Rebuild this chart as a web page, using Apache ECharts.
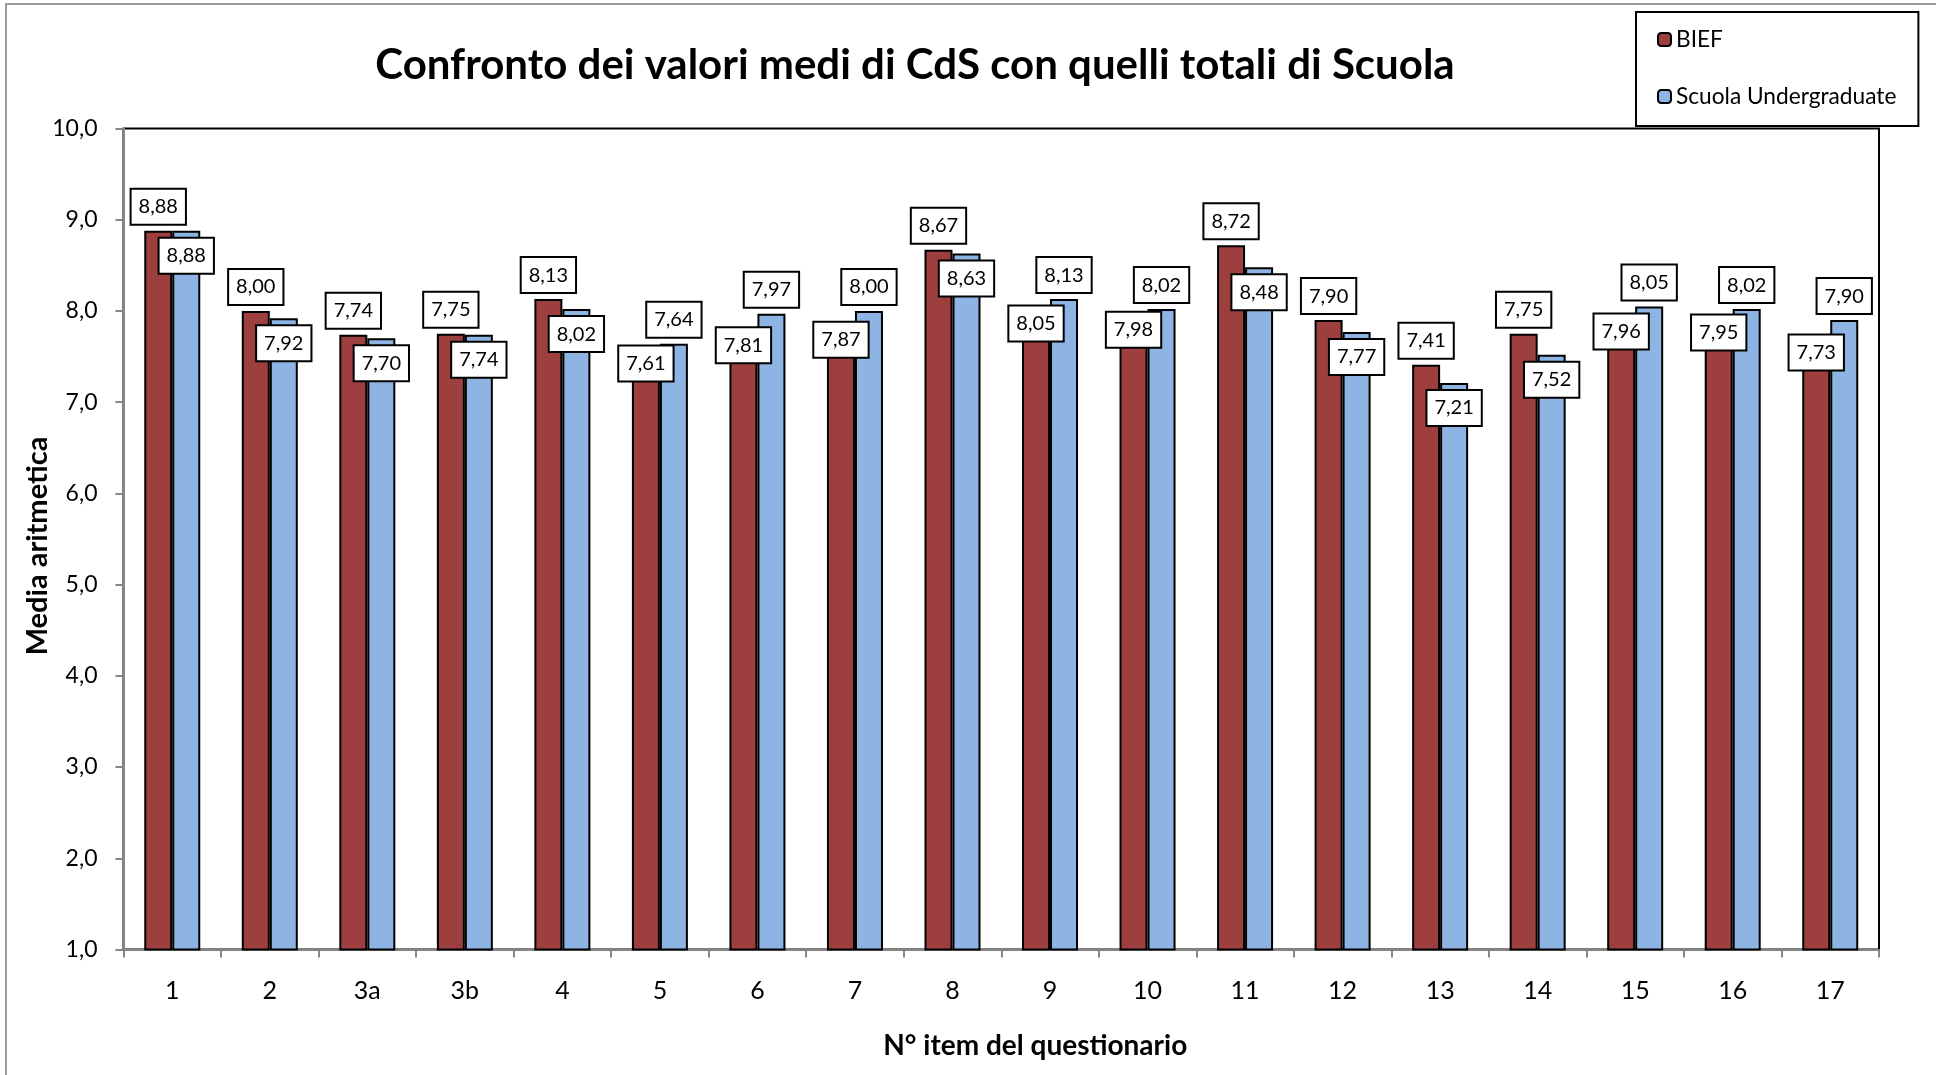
<!DOCTYPE html>
<html>
<head>
<meta charset="utf-8">
<title>Confronto dei valori medi di CdS</title>
<script src="https://cdn.jsdelivr.net/npm/echarts@6/dist/echarts.min.js"></script>
<style>
  html, body { margin: 0; padding: 0; background: #fff; }
  #chart { width: 1936px; height: 1075px; }
</style>
</head>
<body>
<div id="chart"></div>
<script>
// dati
var items = ['1', '2', '3a', '3b', '4', '5', '6', '7', '8', '9', '10', '11', '12', '13', '14', '15', '16', '17'];
var bief = [8.88, 8.00, 7.74, 7.75, 8.13, 7.61, 7.81, 7.87, 8.67, 8.05, 7.98, 8.72, 7.90, 7.41, 7.75, 7.96, 7.95, 7.73];
var scuola = [8.88, 7.92, 7.70, 7.74, 8.02, 7.64, 7.97, 8.00, 8.63, 8.13, 8.02, 8.48, 7.77, 7.21, 7.52, 8.05, 8.02, 7.90];

var RED = '#9d3f3e';
var BLUE = '#8db4e2';

// etichetta sopra per il valore piu alto, dentro per quello piu basso
function withLabels(values, others, first, inside) {
  return values.map(function (v, i) {
    var high = first ? v >= others[i] : v > others[i];
    return {
      value: v,
      label: high ? { position: 'top', distance: 7 } : { position: 'insideTop', distance: inside }
    };
  });
}

function comma(v, d) {
  return v.toFixed(d).replace('.', ',');
}

var labelStyle = {
  show: true,
  fontFamily: 'Lato',
  fontSize: 20,
  lineHeight: 20,
  color: '#000',
  backgroundColor: '#fff',
  borderColor: '#000',
  borderWidth: 2,
  padding: [7, 7],
  formatter: function (p) { return comma(p.value, 2); }
};

var chart = echarts.init(document.getElementById('chart'));
chart.setOption({
  animation: false,
  backgroundColor: '#fff',
  title: {
    text: 'Confronto dei valori medi di CdS con quelli totali di Scuola',
    left: 910,
    top: 60,
    textAlign: 'center',
    textVerticalAlign: 'middle',
    textStyle: { fontFamily: 'Lato', fontWeight: 'bold', fontSize: 42, color: '#000' }
  },
  legend: {
    orient: 'vertical',
    left: 1636,
    top: 12,
    padding: [16, 22, 18, 21],
    borderColor: '#000',
    borderWidth: 2,
    itemWidth: 13,
    itemHeight: 13,
    itemGap: 34,
    textStyle: { fontFamily: 'Lato', fontSize: 22.7, color: '#000' },
    data: ['BIEF', 'Scuola Undergraduate']
  },
  graphic: [{
    type: 'rect',
    shape: { x: 6, y: 4, width: 2000, height: 2000 },
    style: { fill: 'none', stroke: '#9a9a9a', lineWidth: 2 },
    silent: true
  }],
  grid: {
    left: 123.5,
    right: 57,
    top: 128.5,
    bottom: 125.5,
    show: true,
    borderColor: '#000',
    borderWidth: 2
  },
  xAxis: {
    type: 'category',
    data: items,
    name: 'N° item del questionario',
    nameLocation: 'middle',
    nameGap: 82,
    nameMoveOverlap: false,
    nameTextStyle: { fontFamily: 'Lato', fontWeight: 'bold', fontSize: 28, color: '#000', padding: [0, 0, 0, 68] },
    axisLine: { lineStyle: { color: '#868686', width: 2 } },
    axisTick: { show: true, length: 8, lineStyle: { color: '#868686', width: 2 } },
    axisLabel: { fontFamily: 'Lato', fontSize: 25, color: '#000', margin: 29 }
  },
  yAxis: {
    type: 'value',
    min: 1,
    max: 10,
    interval: 1,
    name: 'Media aritmetica',
    nameLocation: 'middle',
    nameGap: 71,
    nameMoveOverlap: false,
    nameTextStyle: { fontFamily: 'Lato', fontWeight: 'bold', fontSize: 29, color: '#000', padding: [0, 14, 0, 0] },
    axisLine: { show: true, lineStyle: { color: '#868686', width: 2 } },
    axisTick: { show: true, length: 8, lineStyle: { color: '#868686', width: 2 } },
    splitLine: { show: false },
    axisLabel: {
      fontFamily: 'Lato', fontSize: 23, color: '#000', margin: 26,
      formatter: function (v) { return comma(v, 1); }
    }
  },
  series: [
    {
      name: 'BIEF',
      type: 'bar',
      barWidth: 28,
      barGap: '0%',
      itemStyle: { color: RED, borderColor: '#000', borderWidth: 2 },
      label: labelStyle,
      data: withLabels(bief, scuola, true, 0)
    },
    {
      name: 'Scuola Undergraduate',
      type: 'bar',
      barWidth: 28,
      barGap: '0%',
      itemStyle: { color: BLUE, borderColor: '#000', borderWidth: 2 },
      label: labelStyle,
      data: withLabels(scuola, bief, false, 8)
    }
  ]
});
</script>
</body>
</html>
